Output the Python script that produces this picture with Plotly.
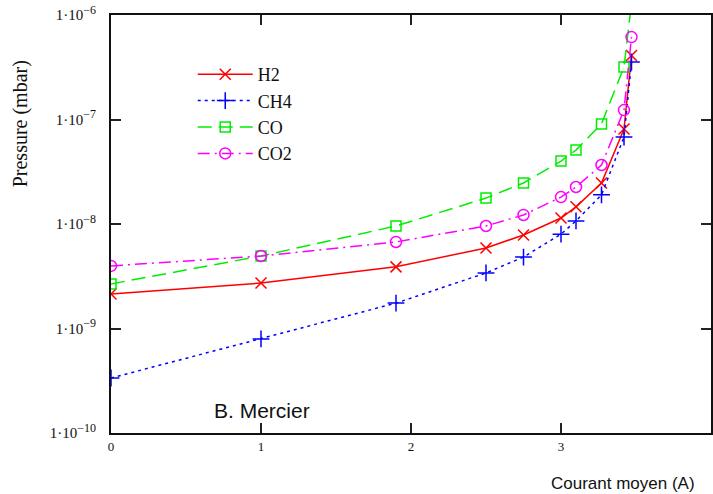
import plotly.graph_objects as go

# Data
courant = [0, 1, 1.9, 2.5, 2.75, 3.0, 3.1, 3.27, 3.42, 3.47]
h2 = [2.14e-9, 2.72e-9, 3.89e-9, 5.9e-9, 7.85e-9, 1.14e-8, 1.46e-8, 2.47e-8, 8.1e-8, 4.1e-7]
ch4 = [3.36e-10, 7.94e-10, 1.75e-9, 3.4e-9, 4.83e-9, 8.0e-9, 1.07e-8, 1.9e-8, 6.8e-8, 3.55e-7]
co = [2.67e-9, 4.94e-9, 9.57e-9, 1.77e-8, 2.47e-8, 4.0e-8, 5.1e-8, 9.06e-8, 3.18e-7, 1.3e-6]
co2 = [3.97e-9, 4.94e-9, 6.73e-9, 9.57e-9, 1.22e-8, 1.81e-8, 2.26e-8, 3.67e-8, 1.23e-7, 6.15e-7]

y_tickvals = [1e-10, 1e-9, 1e-8, 1e-7, 1e-6]
y_exponents = ["−10", "−9", "−8", "−7", "−6"]
y_ticktext = ['1·10<sup><span style="font-size:12px">%s</span></sup>' % e for e in y_exponents]
x_tickvals = [0, 1, 2, 3]
x_ticktext = ["0", "1", "2", "3"]

serif = "Liberation Serif, Times New Roman, serif"
sans = "Liberation Sans, Arial, sans-serif"

fig = go.Figure()
fig.add_trace(go.Scatter(x=courant, y=h2, name="H2", mode="lines+markers",
                         line=dict(color="#ff0000", width=1.5, dash="solid"),
                         marker=dict(symbol="x-thin-open", size=11, color="#ff0000",
                                     line=dict(color="#ff0000", width=1.5))))
fig.add_trace(go.Scatter(x=courant, y=ch4, name="CH4", mode="lines+markers",
                         line=dict(color="#0000ff", width=1.5, dash="3px,4px"),
                         marker=dict(symbol="cross-thin-open", size=12, color="#0000ff",
                                     line=dict(color="#0000ff", width=1.5))))
fig.add_trace(go.Scatter(x=courant, y=co, name="CO", mode="lines+markers",
                         line=dict(color="#00ee00", width=1.5, dash="14px,7px"),
                         marker=dict(symbol="square-open", size=10, color="#00ee00",
                                     line=dict(color="#00ee00", width=1.5))))
fig.add_trace(go.Scatter(x=courant, y=co2, name="CO2", mode="lines+markers",
                         line=dict(color="#ff00ff", width=1.5, dash="12px,5px,2px,5px"),
                         marker=dict(symbol="circle-open", size=11, color="#ff00ff",
                                     line=dict(color="#ff00ff", width=1.5))))

L, R, T, B = 111, 0, 15, 61
W, H = 713, 494
pw, ph = W - L - R, H - T - B

def px(xp):
    return (xp - L) / pw

def py(yp):
    return (H - B - yp) / ph

fig.update_layout(
    width=W, height=H,
    margin=dict(l=L, r=R, t=T, b=B, pad=0),
    paper_bgcolor="white", plot_bgcolor="white",
    showlegend=True,
    legend=dict(x=px(193), y=py(56), xanchor="left", yanchor="top",
                bgcolor="rgba(0,0,0,0)", borderwidth=0,
                font=dict(family=serif, size=18, color="#111"),
                itemwidth=55, tracegroupgap=0),
    xaxis=dict(range=[0, 4.0], tickvals=x_tickvals, ticktext=x_ticktext,
               showline=True, linecolor="#111", linewidth=2, mirror="ticks",
               ticks="inside", ticklen=10, tickwidth=2, tickcolor="#222",
               showgrid=False, zeroline=False,
               tickfont=dict(family=serif, size=13, color="#111")),
    yaxis=dict(type="log", range=[-10, -6], tickvals=y_tickvals, ticktext=y_ticktext,
               showline=True, linecolor="#111", linewidth=2, mirror="ticks",
               ticks="inside", ticklen=10, tickwidth=2, tickcolor="#222",
               showgrid=False, zeroline=False, ticklabelstandoff=10,
               tickfont=dict(family=serif, size=15, color="#111")),
    annotations=[
        dict(text="Pressure (mbar)", x=px(21), y=py(124), xref="paper", yref="paper",
             textangle=-90, showarrow=False, font=dict(family=serif, size=20, color="#111"),
             xanchor="center", yanchor="middle"),
        dict(text="B. Mercier", x=px(263), y=py(410), xref="paper", yref="paper",
             showarrow=False, font=dict(family=sans, size=21, color="#111"),
             xanchor="center", yanchor="middle"),
        dict(text="Courant moyen (A)", x=px(625), y=py(483), xref="paper", yref="paper",
             showarrow=False, font=dict(family=sans, size=17, color="#111"),
             xanchor="center", yanchor="middle"),
    ],
)

fig.write_html("out.html")
